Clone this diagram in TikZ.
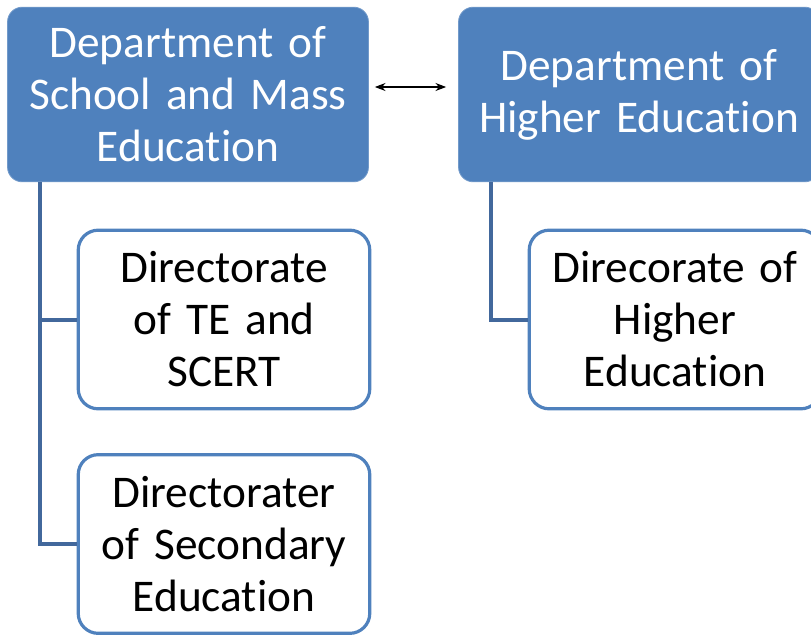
\documentclass[tikz,border=0pt]{standalone}
\usepackage{fontspec}
\setmainfont{Carlito}[Ligatures=NoCommon]
\usepackage{xcolor}
\usetikzlibrary{positioning,calc,arrows.meta}
\definecolor{deptblue}{RGB}{79,129,189}
\definecolor{linkblue}{RGB}{66,104,156}
\begin{document}
\begin{tikzpicture}[x=0.75pt,y=-0.75pt,
    dept/.style={fill=deptblue,draw=deptblue!80!white,line width=0.6pt,rounded corners=11pt,
        text=white,minimum width=267pt,minimum height=131pt,text width=264pt,align=center,
        font=\fontsize{34}{39}\selectfont},
    office/.style={fill=white,draw=deptblue,line width=2.4pt,rounded corners=15pt,
        text=black,minimum width=216pt,minimum height=134pt,text width=212pt,align=center,
        font=\fontsize{34}{39}\selectfont},
    link/.style={draw=linkblue,line width=3pt}]
\useasboundingbox (0,0) rectangle (811,636);
\clip (0,0) rectangle (811,636);
% Departments
\node[dept] (school) at (188,94.5) {Department of\\School and Mass\\Education};
\node[dept] (higher) at (639,94.5) {Department of\\Higher Education};
\draw[{Stealth[length=8pt,width=6pt]}-{Stealth[length=8pt,width=6pt]},line width=0.9pt]
    ([shift={(6,-7.5)}]school.east) -- ([shift={(-12,-7.5)}]higher.west);
% Directorates
\node[office] (scert) at (224,319.5) {Directorate\\of TE and\\SCERT};
\node[office] (secondary) at (224,544) {Directorater\\of Secondary\\Education};
\node[office] (dhe) at (675,319.5) {Direcorate of\\Higher\\Education};
% Links
\coordinate (schoolfoot) at ($(school.south west)+(33,0)$);
\coordinate (higherfoot) at ($(higher.south west)+(33,0)$);
\draw[link] (schoolfoot) |- (scert.west);
\draw[link] (schoolfoot) |- (secondary.west);
\draw[link] (higherfoot) |- (dhe.west);
\end{tikzpicture}
\end{document}
